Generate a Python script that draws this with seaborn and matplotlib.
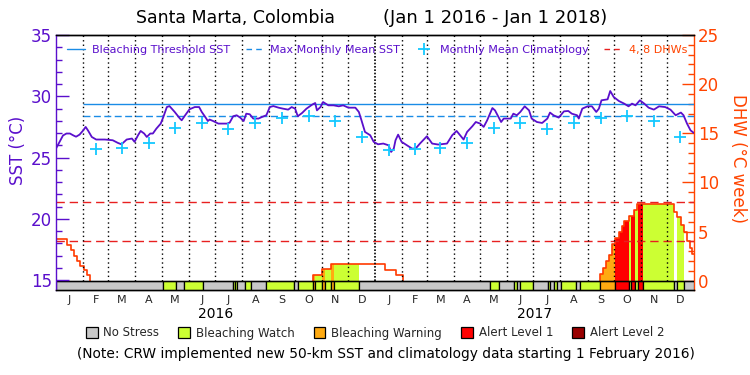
import numpy as np
import pandas as pd
import matplotlib
matplotlib.use("Agg")
import matplotlib.pyplot as plt
import seaborn as sns
from matplotlib.lines import Line2D
from matplotlib.patches import Patch

sns.set_theme(style="white")
plt.rcParams['font.family'] = ['DejaVu Sans']

# ---------------- data ----------------
# days since 2016-01-01
sst_day = [0, 2, 8, 12, 16, 20, 23, 27, 31, 34, 37, 41, 46, 56, 65, 71, 75, 81, 87, 90, 94, 97, 101, 104,
           108, 111, 115, 120, 123, 127, 130, 136, 142, 144, 148, 153, 159, 164, 167, 171, 174, 176, 180,
           186, 196, 199, 203, 207, 211, 215, 218, 222, 226, 232, 236, 241, 245, 249, 255, 260, 266, 270,
           274, 277, 282, 287, 294, 297, 299, 303, 306, 312, 318, 324, 329, 335, 343, 347, 350, 354, 360,
           364, 369, 375, 381, 384, 387, 389, 392, 396, 402, 408, 412, 417, 425, 431, 438, 448, 454, 459,
           463, 467, 471, 477, 481, 486, 490, 494, 498, 500, 503, 507, 510, 513, 521, 524, 528, 532, 537,
           542, 545, 551, 557, 563, 566, 570, 576, 582, 587, 591, 597, 599, 603, 609, 614, 619, 622, 625,
           632, 635, 639, 645, 651, 656, 660, 664, 669, 674, 679, 685, 691, 698, 704, 710, 716, 719, 723,
           727, 731]
sst_val = [25.73, 26.0, 26.8, 26.96, 26.96, 26.8, 26.7, 26.87, 27.2, 27.5, 27.17, 26.68, 26.47, 26.47, 26.41,
           26.19, 26.08, 26.47, 26.55, 26.28, 26.82, 27.17, 26.96, 26.68, 26.96, 26.96, 27.36, 27.77, 28.31,
           29.12, 29.2, 28.72, 28.18, 28.04, 28.45, 28.94, 29.12, 29.12, 28.72, 28.31, 27.98, 28.1, 27.98,
           27.77, 27.77, 27.85, 28.37, 28.45, 28.26, 27.98, 28.58, 28.53, 28.18, 28.18, 28.31, 28.45, 29.12,
           29.2, 29.07, 28.99, 28.91, 29.12, 28.99, 28.37, 28.64, 28.99, 29.34, 29.45, 28.85, 29.12, 29.53,
           29.26, 29.26, 29.18, 29.26, 29.07, 29.07, 28.72, 28.04, 27.09, 26.82, 26.28, 26.08, 26.14, 26.0,
           25.46, 25.73, 26.41, 26.87, 26.28, 26.0, 25.73, 25.73, 26.14, 26.74, 26.14, 26.06, 26.14, 26.82,
           27.17, 26.82, 26.47, 27.09, 27.55, 27.9, 27.77, 27.5, 28.04, 28.72, 29.04, 28.85, 28.31, 27.9,
           28.18, 28.18, 28.58, 28.45, 28.72, 29.18, 28.85, 28.18, 27.9, 27.82, 28.18, 28.67, 28.45, 28.26,
           28.77, 28.8, 28.58, 28.45, 28.18, 28.99, 29.18, 29.18, 28.72, 28.99, 29.67, 29.75, 30.43, 29.94,
           29.61, 29.4, 29.18, 29.4, 29.26, 29.67, 29.4, 29.07, 28.91, 29.18, 29.12, 28.91, 28.45, 28.67,
           28.45, 27.77, 27.22, 27.0]

clim_month_sst = [25.65, 25.7, 25.8, 26.2, 27.4, 27.85, 27.3, 27.8, 28.2, 28.4, 28.0, 26.7]  # Jan..Dec
mmm_sst = 28.4
threshold_sst = 29.4
new_data_start = "2016-02-01"

dhw_day = [0, 13, 17, 21, 24, 28, 32, 35, 39, 294, 305, 315, 377, 389, 398, 623, 627, 630, 634, 637, 641,
           645, 649, 651, 657, 662, 666, 708, 712, 716, 719, 723, 726, 729, 731]
dhw_val = [4.2, 3.6, 3.1, 2.5, 2.0, 1.5, 1.05, 0.55, 0.0, 0.56, 1.17, 1.7, 1.07, 0.56, 0.0, 0.63, 1.24, 1.98,
           2.59, 3.78, 4.39, 4.96, 5.54, 6.05, 6.55, 7.16, 7.78, 7.0, 6.5, 5.71, 4.96, 4.0, 3.33, 2.76, 2.76]
dhw_lines = [4, 8]

status_start = [0, 123, 137, 147, 168, 203, 205, 207, 217, 223, 241, 273, 277, 294, 297, 305, 308, 315, 319,
                347, 497, 508, 525, 528, 532, 546, 564, 566, 571, 574, 579, 596, 600, 623, 641, 656, 659,
                663, 667, 673, 708, 712, 719]
status_end = status_start[1:] + [731]
status_level = [0, 1, 0, 1, 0, 1, 1, 0, 1, 0, 1, 0, 1, 2, 1, 2, 1, 2, 1,
                0, 1, 0, 1, 0, 1, 0, 1, 0, 1, 0, 1, 0, 1, 2, 3, 1, 3,
                1, 3, 1, 0, 1, 0]
status_names = ["No Stress", "Bleaching Watch", "Bleaching Warning", "Alert Level 1", "Alert Level 2"]
month_letters = ["J", "F", "M", "A", "M", "J", "J", "A", "S", "O", "N", "D"]
years = [2016, 2017]
title_place = "Santa Marta, Colombia"
title_period = "(Jan 1 2016 - Jan 1 2018)"

# ---------------- styling ----------------
PURPLE = "#5a0fcc"
ORANGE = "#ff4400"
BLUE = "#1a8ce6"
CYAN = "#14c8ff"
DHWRED = "#e82020"
status_colors = ["#c8c8c8", "#ccff33", "#ffaa11", "#ff0000", "#990000"]

start = pd.Timestamp("2016-01-01")
def dday(ts):
    return (pd.Timestamp(ts) - start).days

month_starts = pd.date_range("2016-01-01", "2018-01-01", freq="MS")
ms_days = np.array([dday(m) for m in month_starts])
mid_days = (ms_days[:-1] + ms_days[1:]) / 2.0
clim_day = mid_days[1:]
clim_vals = [clim_month_sst[m.month - 1] for m in month_starts[1:-1]]

fig = plt.figure(figsize=(7.5, 3.75), dpi=100)
ax = fig.add_axes([56 / 750, 1 - 290 / 375, (694 - 56) / 750, (290 - 35) / 375])
ax2 = ax.twinx()
ax.set_zorder(ax2.get_zorder() + 1)
ax.patch.set_visible(False)
ax2.patch.set_facecolor("white")

ax.set_xlim(0, 731)
ax.set_ylim(14.19, 35)
ax2.set_ylim(-0.95, 25)

# DHW fills coloured by status
dd = np.array(dhw_day)
dv = np.array(dhw_val)
def step_value(t):
    i = np.searchsorted(dd, t, side="right") - 1
    return dv[max(i, 0)]

for s, e, lv in zip(status_start, status_end, status_level):
    if lv == 0:
        continue
    xs = [s] + [d for d in dhw_day if s < d < e] + [e]
    ys = [step_value(x) for x in xs]
    ax2.fill_between(xs, 0, ys, step="post", color=status_colors[lv], lw=0, zorder=2)

# DHW line, drawn episode by episode (no line along zero)
episodes = []
cur_x, cur_y = [], []
for d, v in zip(dhw_day, dhw_val):
    if not cur_x and v > 0 and d > 0:
        cur_x.append(d)
        cur_y.append(0.0)
    cur_x.append(d)
    cur_y.append(v)
    if v == 0:
        episodes.append((cur_x, cur_y))
        cur_x, cur_y = [], []
if cur_x:
    episodes.append((cur_x, cur_y))
for ex, ey in episodes:
    ax2.plot(ex, ey, drawstyle="steps-post", color="#ff3a00", lw=1.2, zorder=3)

# status bar
ax2.bar(status_start, height=0.95, width=np.array(status_end) - np.array(status_start), bottom=-0.95,
        align="edge", color=[status_colors[l] for l in status_level], edgecolor="black", lw=0.9, zorder=4)
ax2.axhline(0, color="black", lw=1, zorder=5)

# DHW reference lines
for v in dhw_lines:
    ax2.axhline(v, color=DHWRED, lw=1, ls=(0, (6, 3.5)), zorder=3)

# month dotted lines
for d, m in zip(ms_days[1:-1], month_starts[1:-1]):
    if m.month == 1:
        ax2.vlines(d, 0, 25, colors="black", linestyles=(0, (1, 1)), lw=1.2, zorder=3.5)
    else:
        ax2.vlines(d, 0, 25, colors="black", linestyles=(0, (1, 2.2)), lw=1, zorder=3.5)

# SST
x0 = dday(new_data_start)
ax.hlines(threshold_sst, x0, 731, color=BLUE, lw=1, zorder=4)
ax.hlines(mmm_sst, x0, 731, color=BLUE, lw=1, linestyles=(0, (5, 2.5)), zorder=4)
sns.lineplot(x=sst_day, y=sst_val, ax=ax, color=PURPLE, lw=1.3, zorder=5)
sns.scatterplot(x=clim_day, y=clim_vals, ax=ax, marker="+", s=64, color=CYAN, linewidth=1.3, zorder=6)

# axes styling
ax.spines["right"].set_visible(False)
ax2.spines["left"].set_visible(False)
ax.spines["left"].set_color(PURPLE)
ax2.spines["right"].set_color(ORANGE)
for sp in ["top", "bottom"]:
    ax.spines[sp].set_color("black")
    ax2.spines[sp].set_color("black")
for sp in ax.spines.values():
    sp.set_linewidth(1)
for sp in ax2.spines.values():
    sp.set_linewidth(1)

ax.set_yticks([15, 20, 25, 30, 35])
ax.set_yticks(np.arange(15, 35, 1), minor=True)
ax.tick_params(axis="y", which="major", direction="in", length=9, width=1, color=PURPLE,
               labelcolor=PURPLE, labelsize=12, pad=3)
ax.tick_params(axis="y", which="minor", direction="in", length=4.5, width=1, color=PURPLE)
ax2.set_yticks([0, 5, 10, 15, 20, 25])
ax2.set_yticks(np.arange(0, 25, 1), minor=True)
ax2.tick_params(axis="y", which="major", direction="in", length=9, width=1, color=ORANGE,
                labelcolor=ORANGE, labelsize=12, pad=3)
ax2.tick_params(axis="y", which="minor", direction="in", length=4.5, width=1, color=ORANGE)

ax.set_xticks(mid_days)
ax.set_xticklabels(month_letters * 2)
ax.set_xticks([], minor=True)
ax.tick_params(axis="x", which="major", direction="out", length=2.5, width=1, color="black",
               labelsize=8, pad=1.2)
ax.set_xlabel("")
ax.set_ylabel("")
ax2.set_ylabel("")

for i, yr in enumerate(years):
    mid = (ms_days[12 * i] + ms_days[12 * i + 12]) / 2.0
    ax.text(mid, -0.095, str(yr), transform=ax.get_xaxis_transform(), ha="center", va="center",
            fontsize=10, color="black")

fig.text(18 / 750, 1 - 150 / 375, "SST (°C)", rotation=90, ha="center", va="center", color=PURPLE,
         fontsize=12)
fig.text(738 / 750, 1 - 158 / 375, "DHW (°C week)", rotation=270, ha="center", va="center", color=ORANGE,
         fontsize=12)

fig.text(235 / 750, 1 - 18 / 375, title_place, ha="center", va="center", fontsize=12.5, color="black")
fig.text(495 / 750, 1 - 18 / 375, title_period, ha="center", va="center", fontsize=13, color="black")

# top legend
handles = [Line2D([], [], color=BLUE, lw=1),
           Line2D([], [], color=BLUE, lw=1, ls=(0, (4, 3))),
           Line2D([], [], color=CYAN, marker="+", ls="none", markersize=8, mew=1.3),
           Line2D([], [], color=DHWRED, lw=1, ls=(0, (4, 3)))]
labels = ["Bleaching Threshold SST", "Max Monthly Mean SST", "Monthly Mean Climatology", "4, 8 DHWs"]
leg = ax.legend(handles, labels, loc="center left", bbox_to_anchor=(0.018, 0.941), ncol=4, frameon=False,
                fontsize=8, handlelength=1.6, handletextpad=0.6, columnspacing=1.4, borderaxespad=0,
                borderpad=0, labelcolor=[PURPLE, PURPLE, PURPLE, ORANGE])

# bottom legend
patches = [Patch(facecolor=c, edgecolor="black", lw=0.9) for c in status_colors]
fig.legend(patches, status_names, loc="center", bbox_to_anchor=(0.5, 1 - 333 / 375), ncol=5,
           frameon=False, fontsize=8.5, handlelength=1.0, handleheight=1.0, handletextpad=0.5,
           columnspacing=1.6, borderpad=0)

fig.text(386 / 750, 1 - 354 / 375,
         "(Note: CRW implemented new 50-km SST and climatology data starting 1 February 2016)",
         ha="center", va="center", fontsize=9.9, color="black")

fig.savefig("out.png", dpi=100)
